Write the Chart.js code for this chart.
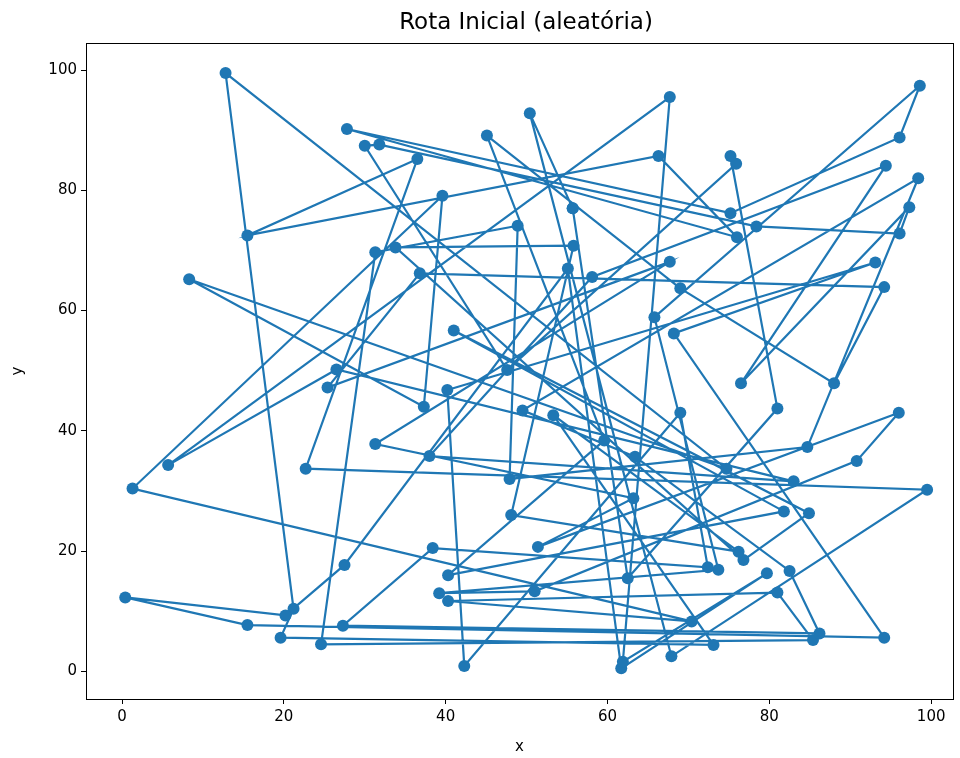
<!DOCTYPE html>
<html>
<head>
<meta charset="utf-8">
<script src="https://cdn.jsdelivr.net/npm/chart.js@4.4.1/dist/chart.umd.min.js"></script>
<style>
  html, body { margin: 0; padding: 0; background: #fff; overflow: hidden; }
  #wrap { position: relative; width: 960px; height: 758px; overflow: hidden; }
  #routeChart { position: absolute; left: 0; top: 0; }
</style>
</head>
<body>
<div id="wrap"><canvas id="routeChart" width="980" height="758"></canvas></div>
<script>
// Route through the cities, in visiting order (last point closes the loop)
const routeX = [55.7, 50.4, 67.9, 99.5, 22.7, 36.5, 15.5, 66.3, 76.0, 27.8,
  75.2, 96.1, 98.6, 65.8, 73.7, 39.2, 51.0, 90.8, 96.0, 51.4,
  63.2, 31.3, 67.7, 25.4, 36.8, 94.2, 88.0, 69.0, 45.1, 59.6,
  40.3, 81.8, 41.0, 84.9, 76.8, 33.8, 55.8, 48.1, 76.2, 53.3,
  73.1, 19.6, 21.2, 12.8, 74.7, 8.3, 37.3, 39.6, 1.3, 70.4,
  40.3, 81.0, 85.4, 24.6, 31.3, 48.9, 47.9, 84.7, 98.4, 49.5,
  63.4, 82.5, 86.2, 27.3, 38.4, 72.4, 69.0, 42.3, 40.2, 93.1,
  68.2, 94.2, 15.5, 0.4, 20.2, 27.5, 55.1, 61.7, 79.7, 61.9,
  67.7, 5.7, 26.5, 83.0, 38.0, 58.1, 94.4, 76.5, 97.3, 96.1,
  78.4, 31.8, 30.0, 47.6, 75.9, 75.2, 81.0, 62.5, 55.7];
const routeY = [77.0, 92.8, 2.5, 30.2, 33.7, 85.2, 72.5, 85.7, 72.2, 90.2,
  76.2, 88.8, 97.4, 58.9, 16.9, 13.0, 13.3, 35.0, 43.0, 20.7,
  28.8, 37.8, 68.1, 47.2, 66.2, 63.9, 47.9, 63.7, 89.1, 38.4,
  16.0, 26.6, 56.7, 26.3, 18.5, 70.5, 70.8, 26.0, 19.9, 42.6,
  4.4, 5.6, 10.4, 99.5, 33.7, 65.2, 44.0, 79.1, 30.4, 8.3,
  11.7, 13.1, 5.2, 4.5, 69.7, 74.1, 32.0, 37.3, 82.0, 43.4,
  35.7, 16.7, 6.3, 7.6, 20.5, 17.3, 43.0, 0.9, 46.8, 68.0,
  56.2, 5.6, 7.7, 12.3, 9.3, 17.7, 67.0, 0.5, 16.3, 1.6,
  95.5, 34.3, 50.2, 31.6, 35.8, 65.6, 84.1, 47.9, 77.2, 72.8,
  74.0, 87.6, 87.4, 50.1, 84.4, 85.7, 43.7, 15.5, 77.0];

const xTicks = [0, 20, 40, 60, 80, 100];
const yTicks = [0, 20, 40, 60, 80, 100];

const points = routeX.map((x, i) => ({ x: x, y: routeY[i] }));

const FONT = 'DejaVu Sans';

// matplotlib style frame + centred title
const framePlugin = {
  id: 'frame',
  afterDraw(chart) {
    const { ctx, chartArea: a } = chart;
    ctx.save();
    ctx.strokeStyle = '#000';
    ctx.lineWidth = 1;
    ctx.strokeRect(a.left + 0.5, a.top + 0.5, a.right - a.left, a.bottom - a.top);
    ctx.fillStyle = '#000';
    ctx.font = '23px "' + FONT + '"';
    ctx.textAlign = 'center';
    ctx.textBaseline = 'middle';
    ctx.fillText('Rota Inicial (aleatória)', 526, 23);
    ctx.restore();
  }
};

new Chart(document.getElementById('routeChart'), {
  type: 'scatter',
  data: {
    datasets: [{
      data: points,
      showLine: true,
      borderColor: '#1f77b4',
      borderWidth: 2.2,
      backgroundColor: '#1f77b4',
      pointRadius: 6,
      pointBorderWidth: 0,
      pointHoverRadius: 6,
      tension: 0
    }]
  },
  options: {
    responsive: false,
    animation: false,
    devicePixelRatio: 1,
    layout: { padding: { left: 0, right: 27, top: 43, bottom: 0 } },
    plugins: { legend: { display: false }, tooltip: { enabled: false } },
    scales: {
      x: {
        type: 'linear',
        min: -4.45,
        max: 102.7,
        afterBuildTicks: s => { s.ticks = xTicks.map(v => ({ value: v })); },
        afterFit: s => { s.height = 59; },
        grid: { drawOnChartArea: false, drawTicks: true, tickLength: 5, color: '#000' },
        border: { display: true, color: '#000', width: 1 },
        ticks: { color: '#000', padding: 4, font: { family: FONT, size: 15 } },
        title: { display: true, text: 'x', color: '#000', padding: { top: 0, bottom: 2 }, font: { family: FONT, size: 15 } }
      },
      y: {
        type: 'linear',
        min: -4.6,
        max: 104.5,
        afterBuildTicks: s => { s.ticks = yTicks.map(v => ({ value: v })); },
        afterFit: s => { s.width = 86; },
        grid: { drawOnChartArea: false, drawTicks: true, tickLength: 5, color: '#000' },
        border: { display: true, color: '#000', width: 1 },
        ticks: { color: '#000', padding: 4, font: { family: FONT, size: 15 } },
        title: { display: true, text: 'y', color: '#000', padding: { top: 9, bottom: 0 }, font: { family: FONT, size: 15 } }
      }
    }
  },
  plugins: [framePlugin]
});
</script>
</body>
</html>
